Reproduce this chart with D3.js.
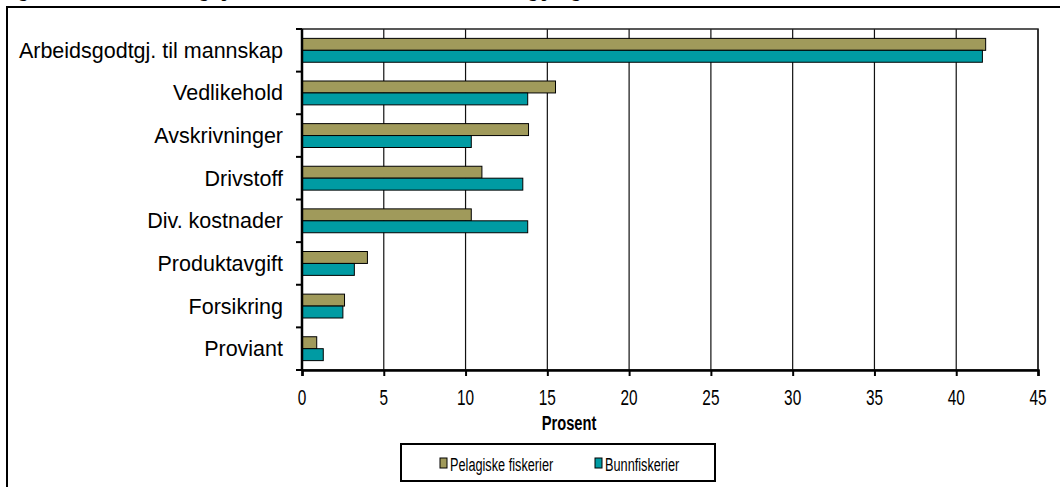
<!DOCTYPE html>
<html>
<head>
<meta charset="utf-8">
<script src="https://cdn.jsdelivr.net/npm/d3@7"></script>
<style>
  body { margin: 0; background: #fff; }
  text { font-family: "Liberation Sans", Arial, sans-serif; }
</style>
</head>
<body>
<div id="chart"></div>
<script>
// Chart data
var categories = ["Arbeidsgodtgj. til mannskap", "Vedlikehold", "Avskrivninger", "Drivstoff",
                  "Div. kostnader", "Produktavgift", "Forsikring", "Proviant"];
var seriesNames = ["Pelagiske fiskerier", "Bunnfiskerier"];
var pelagiske = [41.8, 15.5, 13.85, 11.0, 10.35, 4.0, 2.6, 0.9];
var bunn = [41.6, 13.8, 10.35, 13.5, 13.8, 3.2, 2.5, 1.3];
var xTicks = [0, 5, 10, 15, 20, 25, 30, 35, 40, 45];
var colors = ["#a09a5b", "#009ba3"];

var basewidth = 1060,
    baseheight = 487,
    plot = { left: 302, right: 1038, top: 29, bottom: 370 },
    squeeze = 0.7;   // the axis and legend texts are narrow in the original

var svg = d3.select("#chart").append("svg")
    .attr("width", basewidth)
    .attr("height", baseheight);

// Outer frame (cut by the page edge)
svg.append("path")
    .attr("d", "M7,490 L7,7 L1065,7")
    .attr("fill", "none")
    .attr("stroke", "#000")
    .attr("stroke-width", 2);

// Clipped caption above the frame
svg.append("text")
    .attr("x", 4)
    .attr("y", -3)
    .style("font-family", "'Liberation Serif', 'Times New Roman', serif")
    .style("font-size", "17px")
    .style("font-weight", "bold")
    .text("Figur 4.1 Kostnadsfordeling i prosent av totale kostnader i bunnfiskeri og pelagisk fiskeri 2004");

var xScale = d3.scaleLinear().domain([0, 45]).range([plot.left, plot.right]);
var yScale = d3.scaleBand().domain(categories).range([plot.top, plot.bottom]).paddingInner(0.44).paddingOuter(0.22);
var inner = d3.scaleBand().domain(seriesNames).range([0, yScale.bandwidth()]);

// Grid lines
svg.append("g").selectAll("line")
    .data(xTicks.slice(1))
    .enter().append("line")
    .attr("x1", function (d) { return xScale(d); })
    .attr("x2", function (d) { return xScale(d); })
    .attr("y1", plot.top)
    .attr("y2", plot.bottom)
    .attr("stroke", "#111")
    .attr("stroke-width", 1.2);

// Plot border
svg.append("rect")
    .attr("x", plot.left)
    .attr("y", plot.top)
    .attr("width", plot.right - plot.left)
    .attr("height", plot.bottom - plot.top)
    .attr("fill", "none")
    .attr("stroke", "#222")
    .attr("stroke-width", 1.5);

// Bars
var rows = categories.map(function (c, i) { return { cat: c, vals: [pelagiske[i], bunn[i]] }; });
var groups = svg.append("g").selectAll("g")
    .data(rows)
    .enter().append("g")
    .attr("transform", function (d) { return "translate(0," + yScale(d.cat) + ")"; });

groups.selectAll("rect")
    .data(function (d) { return d.vals.map(function (v, j) { return { name: seriesNames[j], v: v, j: j }; }); })
    .enter().append("rect")
    .attr("x", xScale(0))
    .attr("y", function (d) { return inner(d.name); })
    .attr("width", function (d) { return xScale(d.v) - xScale(0); })
    .attr("height", inner.bandwidth())
    .attr("fill", function (d) { return colors[d.j]; })
    .attr("stroke", "#000")
    .attr("stroke-width", 1);

// x-axis
var xAxis = d3.axisBottom(xScale).tickValues(xTicks).tickSize(6).tickFormat("");
var xg = svg.append("g")
    .attr("transform", "translate(0," + plot.bottom + ")")
    .call(xAxis);
xg.select(".domain").attr("stroke", "#000").attr("stroke-width", 2.5);
xg.selectAll(".tick line").attr("stroke", "#000").attr("stroke-width", 2);

// tick labels drawn narrow
svg.append("g").selectAll("text")
    .data(xTicks)
    .enter().append("text")
    .attr("transform", function (d) { return "translate(" + xScale(d) + ",405) scale(" + squeeze + ",1)"; })
    .attr("text-anchor", "middle")
    .style("font-size", "22px")
    .text(function (d) { return d; });

// y-axis: ticks at category boundaries
var yBoundaries = d3.range(categories.length + 1).map(function (i) {
    return plot.top + i * (plot.bottom - plot.top) / categories.length;
});
svg.append("line")
    .attr("x1", plot.left).attr("x2", plot.left)
    .attr("y1", plot.top).attr("y2", plot.bottom)
    .attr("stroke", "#000").attr("stroke-width", 2.5);
svg.append("g").selectAll("line")
    .data(yBoundaries)
    .enter().append("line")
    .attr("x1", plot.left - 6).attr("x2", plot.left)
    .attr("y1", function (d) { return d; })
    .attr("y2", function (d) { return d; })
    .attr("stroke", "#000").attr("stroke-width", 2);

svg.append("g").selectAll("text")
    .data(categories)
    .enter().append("text")
    .attr("x", 283)
    .attr("y", function (d) { return yScale(d) + yScale.bandwidth() / 2; })
    .attr("dy", "0.35em")
    .attr("text-anchor", "end")
    .style("font-size", "21.5px")
    .text(function (d) { return d; });

// x-axis label
svg.append("text")
    .attr("transform", "translate(569,430) scale(" + squeeze + ",1)")
    .attr("text-anchor", "middle")
    .style("font-size", "21px")
    .style("font-weight", "bold")
    .text("Prosent");

// Legend
var legend = svg.append("g");
legend.append("rect")
    .attr("x", 401).attr("y", 444)
    .attr("width", 314).attr("height", 37)
    .attr("fill", "#fff")
    .attr("stroke", "#000").attr("stroke-width", 2);

var legendX = [440, 595];
var items = legend.selectAll("g")
    .data(seriesNames)
    .enter().append("g")
    .attr("transform", function (d, i) { return "translate(" + legendX[i] + ",458)"; });
items.append("rect")
    .attr("width", 7).attr("height", 10)
    .attr("fill", function (d, i) { return colors[i]; })
    .attr("stroke", "#000").attr("stroke-width", 1);
items.append("text")
    .attr("transform", "translate(10,12.5) scale(0.67,1)")
    .style("font-size", "19px")
    .text(function (d) { return d; });
</script>
</body>
</html>
